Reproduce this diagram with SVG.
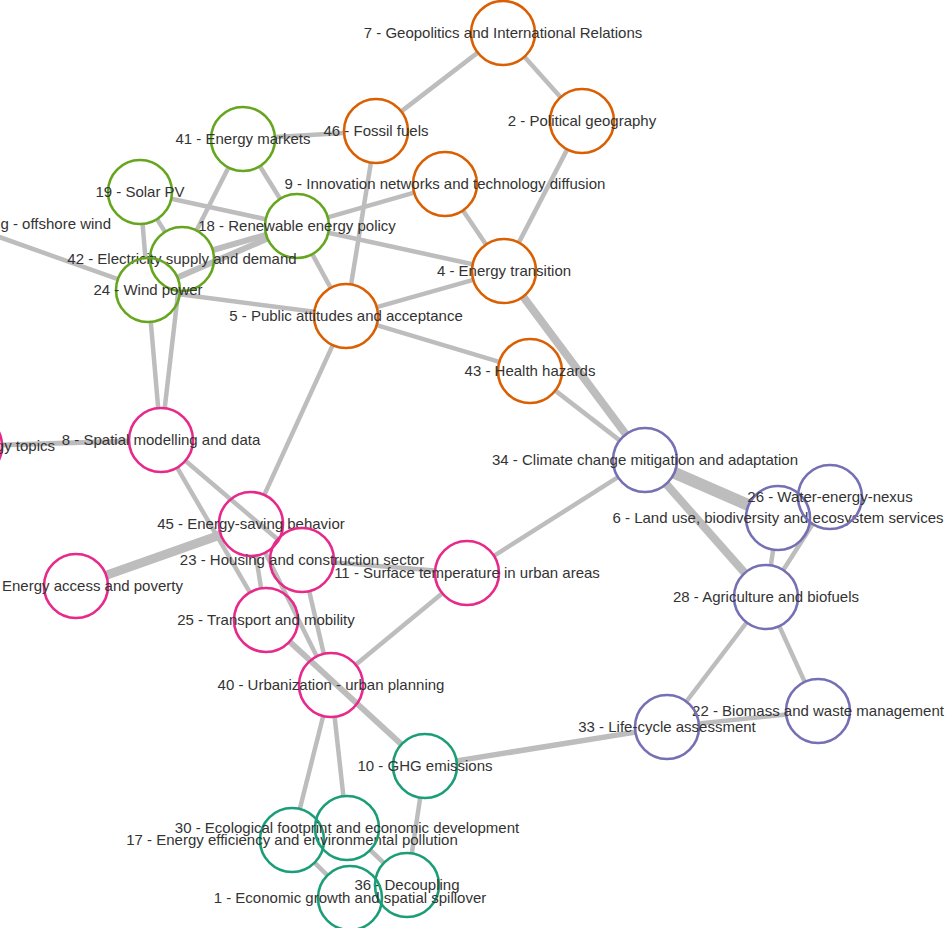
<svg xmlns="http://www.w3.org/2000/svg" width="946" height="928" viewBox="0 0 946 928">
<style>
.e{stroke:#bdbdbd;stroke-width:4.5;stroke-linecap:butt;fill:none}
circle{fill:none;stroke-width:2.6}
.o circle{stroke:#d95f02}
.g circle{stroke:#66a61e}
.p circle{stroke:#e7298a}
.v circle{stroke:#7570b3}
.t circle{stroke:#1b9e77}
text{font-family:"Liberation Sans",Arial,sans-serif;font-size:15px;fill:#333;text-anchor:middle}
</style>
<rect width="946" height="928" fill="#fff"/>
<g id="connectors">
<line class="e" x1="477.7" y1="52.6" x2="401.3" y2="111.4"/>
<line class="e" x1="524.4" y1="56.8" x2="560.6" y2="97.2"/>
<line class="e" x1="567.2" y1="149.4" x2="518.8" y2="242.6"/>
<line class="e" x1="274.9" y1="137.1" x2="344.1" y2="132.9"/>
<line class="e" x1="259.9" y1="166.2" x2="280.1" y2="198.8"/>
<line class="e" x1="228.5" y1="167.5" x2="196.5" y2="230.5"/>
<line class="e" x1="171.3" y1="198.8" x2="265.7" y2="219.2"/>
<line class="e" x1="328.3" y1="232.8" x2="472.7" y2="264.2"/>
<line class="e" x1="142.6" y1="223.9" x2="145.4" y2="258.1"/>
<line class="e" x1="157" y1="219.1" x2="165" y2="231.9"/>
<line class="e" x1="266.2" y1="234.8" x2="212.8" y2="250.2" style="stroke-width:6"/>
<line class="e" x1="267.6" y1="238.6" x2="177.4" y2="277.4" style="stroke-width:6"/>
<line class="e" x1="-6.9" y1="234.8" x2="117.9" y2="279.2"/>
<line class="e" x1="179.7" y1="294.2" x2="314.3" y2="311.8"/>
<line class="e" x1="150.8" y1="321.9" x2="158.2" y2="408.1"/>
<line class="e" x1="178.3" y1="290.8" x2="164.7" y2="408.2"/>
<line class="e" x1="312.3" y1="254.1" x2="330.7" y2="287.9"/>
<line class="e" x1="327.8" y1="217.3" x2="414.2" y2="192.7"/>
<line class="e" x1="370.9" y1="162.6" x2="351.1" y2="284.4"/>
<line class="e" x1="463" y1="210.5" x2="486" y2="244.5"/>
<line class="e" x1="376.8" y1="307.2" x2="473.2" y2="279.8"/>
<line class="e" x1="376.7" y1="325.2" x2="499.3" y2="361.8"/>
<line class="e" x1="332.7" y1="345.1" x2="264.3" y2="494.9"/>
<line class="e" x1="523.1" y1="296.7" x2="625.9" y2="434.3" style="stroke-width:8"/>
<line class="e" x1="555.3" y1="390.6" x2="619.7" y2="440.4"/>
<line class="e" x1="674.3" y1="472.8" x2="748.7" y2="505.2" style="stroke-width:12"/>
<line class="e" x1="666.2" y1="484" x2="744.8" y2="573" style="stroke-width:8"/>
<line class="e" x1="618" y1="477.2" x2="494" y2="555.8"/>
<line class="e" x1="773.2" y1="549.6" x2="770.8" y2="565.4"/>
<line class="e" x1="812.7" y1="524" x2="783.3" y2="570"/>
<line class="e" x1="746.6" y1="622.5" x2="686.4" y2="701.5"/>
<line class="e" x1="779.3" y1="626.1" x2="804.7" y2="681.9"/>
<line class="e" x1="698.8" y1="723.6" x2="786.2" y2="714.4"/>
<line class="e" x1="456.6" y1="760.9" x2="635.4" y2="732.1" style="stroke-width:5.5"/>
<line class="e" x1="2" y1="445" x2="129" y2="441" style="stroke-width:5"/>
<line class="e" x1="185.4" y1="460.7" x2="277.6" y2="539.3"/>
<line class="e" x1="177.1" y1="467.6" x2="249.9" y2="592.4"/>
<line class="e" x1="106.2" y1="575.3" x2="220.8" y2="534.7" style="stroke-width:9"/>
<line class="e" x1="255.9" y1="555.6" x2="261.1" y2="588.4"/>
<line class="e" x1="265.2" y1="552.6" x2="316.8" y2="656.4"/>
<line class="e" x1="309.2" y1="591.2" x2="323.8" y2="653.8"/>
<line class="e" x1="289.6" y1="641.6" x2="401.4" y2="744.4" style="stroke-width:6"/>
<line class="e" x1="442.3" y1="593.3" x2="355.7" y2="664.7"/>
<line class="e" x1="333.9" y1="562.5" x2="435.1" y2="570.5"/>
<line class="e" x1="323.2" y1="716" x2="299.8" y2="809"/>
<line class="e" x1="334.6" y1="716.8" x2="343.4" y2="796.2"/>
<line class="e" x1="420.2" y1="797.6" x2="411.8" y2="853.4"/>
<line class="e" x1="314.6" y1="862.6" x2="327.4" y2="875.4"/>
<line class="e" x1="370.2" y1="850" x2="383.8" y2="863"/>
</g>
<g id="node-7" class="o"><circle cx="503" cy="33" r="32"/><text x="503" y="38">7 - Geopolitics and International Relations</text></g>
<g id="node-2" class="o"><circle cx="582" cy="121" r="32"/><text x="582" y="126">2 - Political geography</text></g>
<g id="node-46" class="o"><circle cx="376" cy="131" r="32"/><text x="376" y="136">46 - Fossil fuels</text></g>
<g id="node-9" class="o"><circle cx="445" cy="184" r="32"/><text x="445" y="189">9 - Innovation networks and technology diffusion</text></g>
<g id="node-4" class="o"><circle cx="504" cy="271" r="32"/><text x="504" y="276">4 - Energy transition</text></g>
<g id="node-5" class="o"><circle cx="346" cy="316" r="32"/><text x="346" y="321">5 - Public attitudes and acceptance</text></g>
<g id="node-43" class="o"><circle cx="530" cy="371" r="32"/><text x="530" y="376">43 - Health hazards</text></g>
<g id="node-41" class="g"><circle cx="243" cy="139" r="32"/><text x="243" y="144">41 - Energy markets</text></g>
<g id="node-19" class="g"><circle cx="140" cy="192" r="32"/><text x="140" y="197">19 - Solar PV</text></g>
<g id="node-18" class="g"><circle cx="297" cy="226" r="32"/><text x="297" y="231">18 - Renewable energy policy</text></g>
<g id="node-42" class="g"><circle cx="182" cy="259" r="32"/><text x="182" y="264">42 - Electricity supply and demand</text></g>
<g id="node-24" class="g"><circle cx="148" cy="290" r="32"/><text x="148" y="295">24 - Wind power</text></g>
<g id="node-offshore" class="g"><circle cx="-37" cy="224" r="32"/><text x="111" y="229" style="text-anchor:end">g - offshore wind</text></g>
<g id="node-34" class="v"><circle cx="645" cy="460" r="32"/><text x="645" y="465">34 - Climate change mitigation and adaptation</text></g>
<g id="node-6" class="v"><circle cx="778" cy="518" r="32"/><text x="778" y="523">6 - Land use, biodiversity and ecosystem services</text></g>
<g id="node-26" class="v"><circle cx="830" cy="497" r="32"/><text x="830" y="502">26 - Water-energy-nexus</text></g>
<g id="node-28" class="v"><circle cx="766" cy="597" r="32"/><text x="766" y="602">28 - Agriculture and biofuels</text></g>
<g id="node-22" class="v"><circle cx="818" cy="711" r="32"/><text x="818" y="716">22 - Biomass and waste management</text></g>
<g id="node-33" class="v"><circle cx="667" cy="727" r="32"/><text x="667" y="732">33 - Life-cycle assessment</text></g>
<g id="node-topics" class="p"><circle cx="-30" cy="446" r="32"/><text x="55" y="451" style="text-anchor:end">gy topics</text></g>
<g id="node-8" class="p"><circle cx="161" cy="440" r="32"/><text x="161" y="445">8 - Spatial modelling and data</text></g>
<g id="node-45" class="p"><circle cx="251" cy="524" r="32"/><text x="251" y="529">45 - Energy-saving behavior</text></g>
<g id="node-23" class="p"><circle cx="302" cy="560" r="32"/><text x="302" y="565">23 - Housing and construction sector</text></g>
<g id="node-11" class="p"><circle cx="467" cy="573" r="32"/><text x="467" y="578">11 - Surface temperature in urban areas</text></g>
<g id="node-access" class="p"><circle cx="76" cy="586" r="32"/><text x="2" y="591" style="text-anchor:start">Energy access and poverty</text></g>
<g id="node-25" class="p"><circle cx="266" cy="620" r="32"/><text x="266" y="625">25 - Transport and mobility</text></g>
<g id="node-40" class="p"><circle cx="331" cy="685" r="32"/><text x="331" y="690">40 - Urbanization - urban planning</text></g>
<g id="node-10" class="t"><circle cx="425" cy="766" r="32"/><text x="425" y="771">10 - GHG emissions</text></g>
<g id="node-17" class="t"><circle cx="292" cy="840" r="32"/><text x="292" y="845">17 - Energy efficiency and environmental pollution</text></g>
<g id="node-30" class="t"><circle cx="347" cy="828" r="32"/><text x="347" y="833">30 - Ecological footprint and economic development</text></g>
<g id="node-36" class="t"><circle cx="407" cy="885" r="32"/><text x="407" y="890">36 - Decoupling</text></g>
<g id="node-1" class="t"><circle cx="350" cy="898" r="32"/><text x="350" y="903">1 - Economic growth and spatial spillover</text></g>
</svg>
